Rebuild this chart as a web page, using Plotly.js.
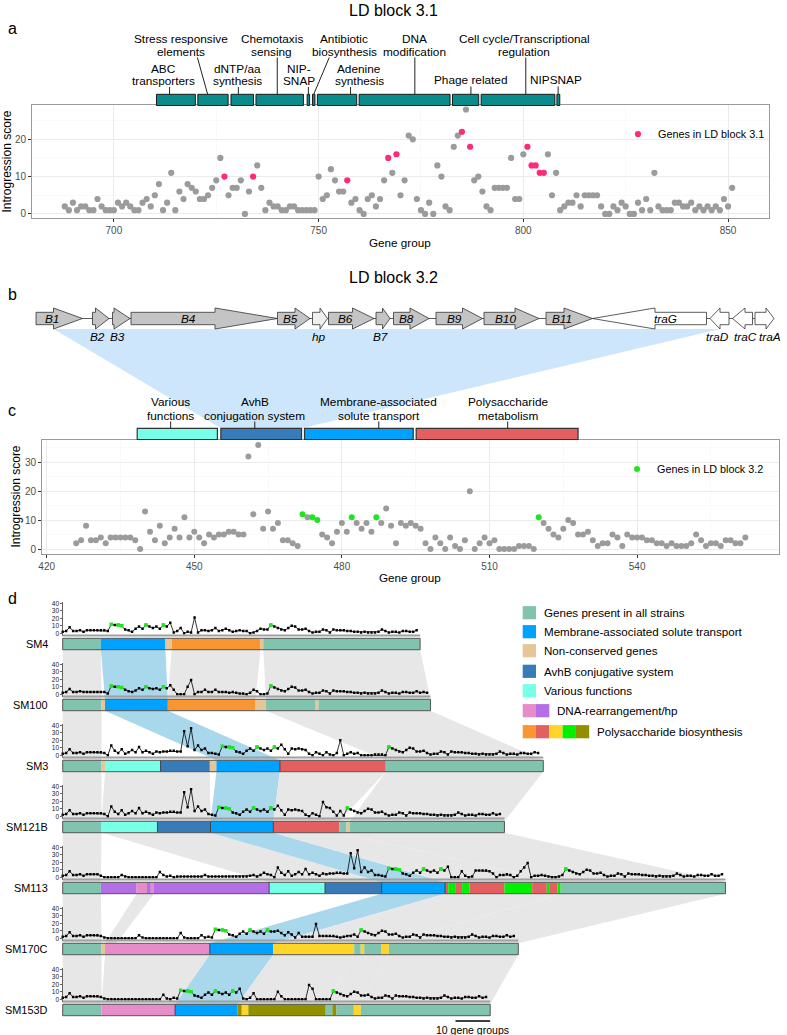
<!DOCTYPE html>
<html><head><meta charset="utf-8">
<script src="https://cdn.plot.ly/plotly-3.0.1.min.js"></script>
<style>html,body{margin:0;padding:0;background:#fff}#chart{width:787px;height:1035px}</style>
</head><body><div id="chart"></div>
<script>
// ================= DATA =================
// Panel a : LD block 3.1
const blockA_firstGene = 688;
const blockA_scores = [2,1,3,1,2,2,1,1,4,2,1,1,1,3,2,3,2,1,1,3,4,2,5,8,1,3,11,1,6,4,8,7,6,4,4,5,7,9,15,10,5,7,7,9,0,6,10,13,7,1,3,2,2,1,1,2,2,1,1,1,1,1,10,4,5,12,9,6,6,9,3,4,1,0,4,5,2,4,9,15,11,16,
  5,9,21,20,4,1,0,3,0,13,10,2,1,18,21,22,28,18,9,10,6,2,1,7,7,7,7,15,4,4,16,18,13,13,11,11,16,5,11,1,2,3,3,5,2,5,5,5,5,2,0,0,2,1,3,2,0,0,3,1,4,1,11,2,1,1,1,3,3,2,2,3,1,2,1,2,1,2,1,4,2,7];
const blockA_ldGenes = [727,734,757,767,769,785,787,801,802,803,804,805];
const blockA_categories = ["ABC<br>transporters","Stress responsive<br>elements","dNTP/aa<br>synthesis","Chemotaxis<br>sensing","NIP-<br>SNAP","Antibiotic<br>biosynthesis","Adenine<br>synthesis","DNA<br>modification","Phage related","Cell cycle/Transcriptional<br>regulation","NIPSNAP"];
const blockA_catStart = [710.4,720.5,728.6,734.7,747.2,748.5,749.7,759.9,782.7,789.7,808.2];
const blockA_catEnd   = [719.9,727.9,734.1,746.3,747.8,749.1,759.3,782.1,789.1,807.7,808.9];

// Panel c : LD block 3.2
const blockC_firstGene = 426;
const blockC_scores = [2,3,8,3,3,4,2,4,4,4,4,4,3,0,13,6,3,8,2,4,7,4,11,4,6,4,2,5,4,5,5,6,6,5,5,32,12,36,7,13,7,9,3,3,2,1,12,11,11,10,5,4,2,6,9,6,11,9,7,9,6,11,9,14,8,2,
  9,8,9,8,7,2,0,4,2,0,4,1,0,3,20,0,2,4,2,3,0,0,0,0,1,1,1,0,11,9,7,5,4,7,10,9,5,5,6,3,1,2,2,5,4,1,5,4,4,4,3,3,2,2,1,2,1,1,1,2,5,3,1,2,2,1,3,3,2,2,4];
const blockC_ldGenes = [472,474,475,482,487,520];
const blockC_categories = ["Various<br>functions","AvhB<br>conjugation system","Membrane-associated<br>solute transport","Polysaccharide<br>metabolism"];
const blockC_catStart = [438.4,455.4,472.4,495.1];
const blockC_catEnd   = [454.7,471.8,494.5,528.0];
const blockC_catKey   = ["various","avhb","mem","red"];

// Panel b : gene map (map units)
const geneNames  = ["B1","B2","B3","B4","B5","hp","B6","B7","B8","B9","B10","B11","traG","traD","traC","traA"];
const geneStart  = [0,56.5,76.5,95,241.5,276.5,292.5,340,357.5,400,448,510,556.5,674,696.5,719];
const geneEnd    = [46.5,73,94,241.5,274,291.5,338,354,393,446.5,503,556.5,670.5,693,716.5,738];
const geneHeadAt = [17.5,59.5,78,179,259,284,316.5,346.5,374,426.5,479,528,619,684,709,730];
const geneStrand = [1,1,1,1,1,1,1,1,1,1,1,1,-1,-1,-1,1];
const geneType   = ["avhb","avhb","avhb","avhb","avhb","hp","avhb","avhb","avhb","avhb","avhb","avhb","tra","tra","tra","tra"];

// Panel d : strains
const strains = ["SM4","SM100","SM3","SM121B","SM113","SM170C","SM153D"];
const sm4_scores = [2,3,8,3,3,4,2,4,4,4,4,4,4,3,12,11,11,10,5,4,2,6,9,6,11,9,7,9,6,11,9,14,1,3,7,0,2,1,21,1,4,4,3,4,7,3,4,6,4,2,3,4,3,3,0,1,3,6,5,5,11,9,7,5,4,7,10,9,5,5,6,3,1,2,2,5,4,1,5,4,4,4,3,3,2,2,1,2,1,1,1,2,5,3,1,2,2,1,3,3,2,2,4];
const sm100_scores = [2,3,7,3,3,4,3,3,3,3,3,3,3,1,11,10,10,9,6,4,3,5,8,6,10,8,7,8,6,10,8,12,6,0,0,0,10,19,0,3,3,6,3,3,6,3,3,3,2,3,2,1,1,0,2,6,4,0,0,1,11,9,7,5,4,7,10,9,5,5,6,3,1,2,2,5,4,1,5,4,4,4,3,3,2,2,1,2,1,1,1,2,5,3,1,2,2,1,3,3,2,2,4,2,3,2];
const sm3_scores = [2,3,8,3,3,4,2,4,4,4,4,4,3,0,13,6,3,8,2,4,7,4,11,4,6,4,2,5,4,5,5,6,6,5,5,32,12,36,7,13,7,9,3,3,2,1,12,11,11,10,5,4,2,6,9,6,11,9,7,9,6,11,9,14,8,2,9,8,9,8,7,2,0,4,2,0,4,1,0,3,20,0,2,4,2,3,0,0,0,0,1,1,1,0,11,9,7,5,4,7,10,9,5,5,6,3,1,2,2,5,4,1,5,4,4,4,3,3,2,2,1,2,1,1,1,2,5,3,1,2,2,1,3,3,2,2,4,3];
const sm121B_scores = [2,3,8,3,3,4,2,4,4,4,4,4,3,0,13,6,3,8,2,4,7,4,11,4,6,4,2,5,4,5,5,6,6,5,5,32,12,36,7,13,7,9,3,2,1,12,11,11,10,5,4,2,6,9,6,11,9,7,9,6,11,9,14,8,2,9,8,9,8,7,2,0,4,2,0,19,12,11,6,1,7,1,11,9,7,5,4,7,10,9,5,5,6,3,1,2,2,5,4,1,5,4,4,4,3,3,2,2,1,2,1,1,1,2,5,3,1,2,2,1,3,3,2,2,4,2,3];
const sm113_scores = [2,3,8,3,3,4,2,4,4,4,4,2,0,0,0,0,0,3,1,0,0,0,0,0,0,0,0,0,7,3,1,2,0,1,1,1,1,1,1,1,1,3,1,1,1,1,1,1,1,1,1,1,1,1,2,3,1,3,6,4,3,0,13,6,3,8,2,4,7,4,11,4,6,4,2,5,4,5,5,6,6,5,5,32,12,36,7,13,7,9,3,3,2,1,12,11,11,10,5,4,2,6,9,6,11,9,7,9,6,11,9,14,0,0,0,8,2,0,1,9,9,9,9,8,5,0,3,3,4,3,0,2,8,13,19,0,2,2,3,2,1,0,0,1,3,11,9,7,5,4,7,10,9,5,5,6,3,1,2,2,5,4,1,5,4,4,4,3,3,2,2,1,2,1,1,1,2,5,3,1,2,2,1,3,3,2,2,4,2,2,4];
const sm170C_scores = [2,3,8,3,3,4,2,4,4,4,4,3,1,0,0,0,0,0,0,0,0,0,4,1,0,0,0,0,0,0,0,0,0,0,7,1,0,0,0,0,4,1,2,1,12,11,11,10,5,4,2,6,9,6,11,9,7,9,6,11,9,9,10,7,4,8,5,1,7,2,2,2,2,19,3,3,3,3,3,2,1,2,3,3,5,2,11,9,7,5,4,7,10,9,5,5,6,3,1,2,2,5,4,1,5,4,4,4,3,3,2,2,1,2,1,1,1,2,5,3,1,2,2,1,3,3,2,2,4,2,3];
const sm153D_scores = [2,3,8,3,3,4,2,4,4,4,4,3,1,0,0,0,0,0,0,0,0,0,0,0,0,0,0,0,0,6,1,0,2,1,12,11,11,10,5,4,2,6,9,6,11,9,7,9,6,11,9,14,1,0,2,8,0,0,0,0,0,0,10,4,0,0,0,0,0,0,0,19,14,0,0,0,0,0,11,9,7,5,4,7,10,9,5,5,6,3,1,2,2,5,4,1,5,4,4,4,3,3,2,2,1,2,1,1,1,2,5,3,1,2,2,1,3,3,2,2,4,2,3];
const strainScores = [sm4_scores, sm100_scores, sm3_scores, sm121B_scores, sm113_scores, sm170C_scores, sm153D_scores];
const strainLd = [[14,16,17,24,29,60],[14,16,17,24,29,60],[46,48,49,56,61,94],[45,47,48,55,60,82],[94,96,97,104,109,145],[44,46,47,54,59,86],[34,36,37,44,49,78]];
// segment categories and right edges (gene-group units)
const strainSegCat = [
  ["core","mem","non","orange","non","core"],
  ["core","non","mem","orange","non","core","non","core"],
  ["core","non","various","avhb","non","mem","red","core"],
  ["core","various","avhb","mem","red","core","non","core"],
  ["core","purple","pink","purple","pink","purple","various","avhb","mem","red","green","red","green","red","green","red","green","red","green","core"],
  ["core","non","pink","mem","yellow","core","yellow","core","yellow","core"],
  ["core","pink","mem","olive","yellow","olive","core","olive","core","yellow","core"]];
const strainSegEnd = [
  [11,29.6,31.4,57,57.8,103],
  [11.2,12.2,30.3,55.6,58.6,72.9,73.7,106],
  [11.2,12.2,28.2,42.4,44.3,62.6,93.1,138.5],
  [11.2,27.3,42.6,60.7,79.7,81.8,82.8,127.3],
  [11,21.3,24.3,25.4,26.3,59.5,75.6,91.9,110.2,111.1,113.1,115.1,117.2,127.3,135.3,139.5,140.4,142.6,143.5,191],
  [11.2,12.2,42.4,60.7,84,85.9,86.9,91.9,94,131.3],
  [11.2,32.4,50.4,51.6,53.5,75.8,77.7,78.9,83.9,85.9,123.2]];
// homology links between consecutive strains
const linkRow  = [0,0,0,0, 1,1,1, 2,2,2,2,2, 3,3,3,3,3, 4,4,4,4,4, 5,5,5,5,5,5];
const linkTop0 = [0,11,31.4,57.8, 0,12.2,58.6, 0,12.2,44.3,62.6,93.1, 0,11.2,42.6,60.7,79.7, 0,21.3,91.9,110.2,143.5, 0,12.2,42.4,60.7,84,94];
const linkTop1 = [11,29.6,57,103, 11.2,30.3,106, 11.2,42.4,62.6,93.1,138.5, 11.2,42.6,60.7,79.7,127.3, 11,26.3,110.2,143.5,191, 11.2,42.4,60.7,84,94,131.3];
const linkBot0 = [0,12.2,30.3,58.6, 0,44.3,93.1, 0,11.2,42.6,60.7,82.8, 0,59.5,91.9,110.2,143.5, 0,12.2,42.4,60.7,94, 0,11.2,32.4,50.4,75.8,85.9];
const linkBot1 = [11.2,30.3,55.6,106, 11.2,62.6,138.5, 11.2,42.6,60.7,79.7,127.3, 11,91.9,110.2,143.5,191, 11.2,15.5,60.7,94,131.3, 11.2,32.4,50.4,75.8,85.9,123.2];
const linkKind = ["g","b","g","g", "g","b","g", "g","g","b","g","g", "g","g","b","g","g", "g","g","b","g","g", "g","g","b","g","g","g"];
const legendLabels = ["Genes present in all strains","Membrane-associated solute transport","Non-conserved genes","AvhB conjugative system","Various functions","DNA-rearrangement/hp","Polysaccharide biosynthesis"];
const legendKeys = [["core"],["mem"],["non"],["avhb"],["various"],["pink","purple"],["orange","red","yellow","green","olive"]];
const scaleBarGenes = 10;

// ================= STYLE / LAYOUT =================
const W = 787, H = 1035;
const FONT = 'Liberation Sans, Arial, Helvetica, sans-serif';
const PY = p => 1 - p / H;
const PX = p => p / W;
const dom = (top, bottom) => [1 - bottom / H, 1 - top / H];
const COL = {core:'#80c4b0', mem:'#00a2ff', non:'#e6c696', avhb:'#377bb9', various:'#78ffe8', pink:'#e68cc8', purple:'#b46ee6', orange:'#fa9632', red:'#e45f5f', yellow:'#ffd628', green:'#00f000', olive:'#919100'};
const DIV_LEFT = ['purple','various','avhb','mem','pink'], DIV_RIGHT = ['various','avhb','mem','red'];
const traces = [], shapes = [], ann = [];
const T = (text, x, y, size, o) => Object.assign({text, x: PX(x), y: PY(y), xref:'paper', yref:'paper', showarrow:false, font:{family:FONT, size, color:'#000'}, xanchor:'center', yanchor:'middle'}, o || {});

// ---------- panel d ----------
const D0 = 62.7, DU = 3.47;
const ROW = 61, BAR_TOP0 = 638.3, BH = 11.4 / ROW;
const dTop = 598, dBot = 1030;
const ovTop = (dTop - BAR_TOP0) / ROW, ovBot = (dBot - BAR_TOP0) / ROW;
for (let i = 0; i < linkRow.length; i++) {
  const r = linkRow[i];
  traces.push({type:'scatter', mode:'lines', xaxis:'x3', yaxis:'y',
    x:[linkTop0[i], linkTop1[i], linkBot1[i], linkBot0[i], linkTop0[i]],
    y:[r + BH, r + BH, r + 1, r + 1, r + BH], fill:'toself',
    fillcolor: linkKind[i] === 'b' ? '#a9d7ec' : '#e7e7e7', line:{width:0}, hoverinfo:'skip', showlegend:false});
}
strainSegCat.forEach((cats, r) => {
  const ends = strainSegEnd[r];
  cats.forEach((c, j) => {
    const x0 = j === 0 ? 0 : ends[j - 1], x1 = ends[j];
    traces.push({type:'scatter', mode:'lines', xaxis:'x3', yaxis:'y', x:[x0,x1,x1,x0,x0], y:[r,r,r+BH,r+BH,r],
      fill:'toself', fillcolor: COL[c], line:{width:0}, hoverinfo:'skip', showlegend:false});
    if (j > 0 && cats[j - 1] !== c && DIV_LEFT.includes(cats[j - 1]) && DIV_RIGHT.includes(c)) {
      traces.push({type:'scatter', mode:'lines', xaxis:'x3', yaxis:'y', x:[x0, x0], y:[r, r + BH],
        line:{color:'#3a3a3a', width:0.9}, hoverinfo:'skip', showlegend:false});
    }
  });
  const N = ends[ends.length - 1];
  traces.push({type:'scatter', mode:'lines', xaxis:'x3', yaxis:'y', x:[0,N,N,0,0], y:[r,r,r+BH,r+BH,r],
    line:{color:'#555', width:1}, hoverinfo:'skip', showlegend:false});
});
const miniAxes = {};
strains.forEach((s, r) => {
  const yname = 'y' + (r + 2);
  const y0 = BAR_TOP0 - 5 + ROW * r;
  miniAxes['yaxis' + (r + 2)] = {domain: dom(y0 - 31.5, y0 + 2.25), range:[-3, 42], anchor:'free', position: PX(62.3),
    tickvals:[0,10,20,30,40], ticks:'outside', ticklen:2, tickwidth:0.7, tickcolor:'#222', showline:true, linecolor:'#222', linewidth:0.7,
    showgrid:false, zeroline:false, tickfont:{family:FONT, size:6.5, color:'#222'}, fixedrange:true};
  const vals = strainScores[r];
  const N = strainSegEnd[r][strainSegEnd[r].length - 1];
  shapes.push({type:'line', xref:'x3', yref: yname + ' domain', x0:0, x1:N, y0:0, y1:0, line:{color:'#a0a0a0', width:2}});
  traces.push({type:'scatter', mode:'lines+markers', xaxis:'x3', yaxis:yname, x: vals.map((v, k) => k), y: vals,
    line:{color:'#000', width:0.8}, marker:{symbol:'square', size:2.4, color:'#000'}, hoverinfo:'skip', showlegend:false});
  const ld = strainLd[r];
  traces.push({type:'scatter', mode:'markers', xaxis:'x3', yaxis:yname, x: ld, y: ld.map(k => vals[k]),
    marker:{symbol:'square', size:3.6, color:'#1ee61e'}, hoverinfo:'skip', showlegend:false});
  ann.push(T(s, 49.5, BAR_TOP0 + BH * ROW / 2 + ROW * r, 10.9, {xanchor:'right'}));
});
const lastN = strainSegEnd[6][strainSegEnd[6].length - 1];
const sbY = (1021 - BAR_TOP0) / ROW;
shapes.push({type:'line', xref:'x3', yref:'y', x0:lastN - scaleBarGenes, x1:lastN, y0:sbY, y1:sbY, line:{color:'#000', width:1.5}});
ann.push(Object.assign(T(scaleBarGenes + ' gene groups', 0, 1029.5, 10.5), {xref:'x3', x: lastN - scaleBarGenes / 2}));
const legY = [612.7, 631.7, 650.7, 671.3, 690.7, 710.7, 731.7];
legendLabels.forEach((lab, i) => {
  const keys = legendKeys[i];
  keys.forEach((k, j) => {
    shapes.push({type:'rect', xref:'paper', yref:'paper', x0:PX(522.7 + 13.3 * j), x1:PX(522.7 + 13.3 * (j + 1)),
      y0:PY(legY[i] + 6.6), y1:PY(legY[i] - 6.6), fillcolor:COL[k], line:{width:0}});
  });
  ann.push(T(lab, 522.7 + 13.3 * keys.length + 5.5, legY[i], 11.6, {xanchor:'left'}));
});

// ---------- panel a ----------
const xA = blockA_scores.map((v, i) => blockA_firstGene + i);
const ldA = xA.map(g => blockA_ldGenes.includes(g));
traces.push({type:'scatter', mode:'markers', xaxis:'x', yaxis:'y9', x: xA.filter((g, i) => !ldA[i]), y: blockA_scores.filter((v, i) => !ldA[i]),
  marker:{size:6.2, color:'#9b9b9b'}, hoverinfo:'skip', showlegend:false});
traces.push({type:'scatter', mode:'markers', xaxis:'x', yaxis:'y9', x: xA.filter((g, i) => ldA[i]), y: blockA_scores.filter((v, i) => ldA[i]),
  marker:{size:6.2, color:'#ff2a7a'}, name:'Genes in LD block 3.1', showlegend:true, legend:'legend', hoverinfo:'skip'});
const labelA_x   = [712.2,716.5,730.2,738.6,745.3,756.2,759.9,773.5,787.2,800.2,807.9];
const labelA_hi  = [false,true,false,true,false,true,false,true,false,true,false];
const connA_top  = [713.6,720.4,730.4,739.9,747.5,752.6,757.8,773.5,787.2,800.6,808.5];
const connA_bot  = [713.6,722.9,730.4,739.9,747.5,748.8,757.8,773.5,787.2,800.6,808.5];
blockA_categories.forEach((lab, i) => {
  shapes.push({type:'rect', xref:'x', yref:'paper', x0:blockA_catStart[i], x1:blockA_catEnd[i], y0:PY(105.5), y1:PY(94.3),
    fillcolor:'#0b8c8c', line:{color:'#1a1a1a', width:1}});
  const lines = lab.split('<br>');
  let ys, cTop;
  if (labelA_hi[i]) { ys = [39.3, 52.3]; cTop = 57.5; }
  else if (lines.length === 2) { ys = [69.3, 81.3]; cTop = 87; }
  else { ys = [80.5]; cTop = 86.5; }
  lines.forEach((ln, j) => ann.push(Object.assign(T(ln, 0, ys[j], 11.8), {xref:'x', x: labelA_x[i]})));
  shapes.push({type:'line', xref:'x', yref:'paper', x0:connA_top[i], x1:connA_bot[i], y0:PY(cTop), y1:PY(94.3), line:{color:'#222', width:1}});
});

// ---------- panel c ----------
const xC = blockC_scores.map((v, i) => blockC_firstGene + i);
const ldC = xC.map(g => blockC_ldGenes.includes(g));
traces.push({type:'scatter', mode:'markers', xaxis:'x2', yaxis:'y10', x: xC.filter((g, i) => !ldC[i]), y: blockC_scores.filter((v, i) => !ldC[i]),
  marker:{size:6, color:'#9b9b9b'}, hoverinfo:'skip', showlegend:false});
traces.push({type:'scatter', mode:'markers', xaxis:'x2', yaxis:'y10', x: xC.filter((g, i) => ldC[i]), y: blockC_scores.filter((v, i) => ldC[i]),
  marker:{size:6, color:'#1ee61e'}, name:'Genes in LD block 3.2', showlegend:true, legend:'legend2', hoverinfo:'skip'});
const labelC_x = [445.2, 462.3, 487.5, 513.7];
blockC_categories.forEach((lab, i) => {
  shapes.push({type:'rect', xref:'x2', yref:'paper', x0:blockC_catStart[i], x1:blockC_catEnd[i], y0:PY(439.5), y1:PY(428.3),
    fillcolor:COL[blockC_catKey[i]], line:{color:'#333', width:1.2}});
  const lines = lab.split('<br>');
  lines.forEach((ln, j) => ann.push(Object.assign(T(ln, 0, [402, 415.7][j], 11.8), {xref:'x2', x: labelC_x[i]})));
  shapes.push({type:'line', xref:'x2', yref:'paper', x0:labelC_x[i], x1:labelC_x[i], y0:PY(421.5), y1:PY(428.3), line:{color:'#222', width:1}});
});

// ---------- panel b ----------
const cDomL = 42, cDomR = 779.3, cR0 = 419.05, cR1 = 568.9;
const cPx = g => cDomL + (g - cR0) * (cDomR - cDomL) / (cR1 - cR0);
const MAP0 = 36;
const avi = blockC_catKey.indexOf('avhb');
const iB1 = geneNames.indexOf('B1'), iTraD = geneNames.indexOf('traD');
traces.push({type:'scatter', mode:'lines', xaxis:'x4', yaxis:'y11',
  x:[geneHeadAt[iB1], geneHeadAt[iTraD], cPx(blockC_catEnd[avi]) - MAP0, cPx(blockC_catStart[avi]) - MAP0, geneHeadAt[iB1]],
  y:[329, 329, 428.3, 428.3, 329], fill:'toself', fillcolor:'#cde6fb', line:{width:0}, hoverinfo:'skip', showlegend:false});
const GC = 318.5, BHALF = 6.2, HHALF = 10.5;
traces.push({type:'scatter', mode:'lines', xaxis:'x4', yaxis:'y11', x:[geneStart[0], geneEnd[geneEnd.length - 1]], y:[GC, GC],
  line:{color:'#333', width:0.8}, hoverinfo:'skip', showlegend:false});
const FILL = {avhb:'#c4c4c4', hp:'#efefef', tra:'#ffffff'};
const inside = [true,false,false,true,true,false,true,false,true,true,true,true,true,false,false,false];
const labelShift = [0,-3,-3.5,0,0,-1.5,0,-3,0,0,0,0,0,-2,2.5,5.5];
geneNames.forEach((g, i) => {
  const s = geneStart[i], e = geneEnd[i], h = geneHeadAt[i];
  const xs = geneStrand[i] > 0 ? [s, h, h, e, h, h, s, s] : [e, h, h, s, h, h, e, e];
  const ys = [GC - BHALF, GC - BHALF, GC - HHALF, GC, GC + HHALF, GC + BHALF, GC + BHALF, GC - BHALF];
  traces.push({type:'scatter', mode:'lines', xaxis:'x4', yaxis:'y11', x:xs, y:ys, fill:'toself', fillcolor:FILL[geneType[i]],
    line:{color:'#333', width:0.8}, hoverinfo:'skip', showlegend:false});
  const bodyC = geneStrand[i] > 0 ? (s + h) / 2 : (h + e) / 2;
  const lx = (inside[i] ? (bodyC + (s + e) / 2) / 2 : (s + e) / 2) + labelShift[i];
  ann.push(Object.assign(T('<i>' + g + '</i>', 0, inside[i] ? GC : 337.3, 11.8), {xref:'x4', x: lx}));
});

// ---------- titles & panel letters ----------
ann.push(T('LD block 3.1', 393, 10.5, 16));
ann.push(T('LD block 3.2', 393, 277, 16));
ann.push(T('a', 12, 28, 16)); ann.push(T('b', 12, 295, 16)); ann.push(T('c', 12, 410, 16)); ann.push(T('d', 12, 598, 16));
ann.push(T('Introgression score', 7, 161.5, 12, {textangle:-90}));
ann.push(T('Gene group', 400, 243, 11.7));
ann.push(T('Introgression score', 15.5, 497, 12, {textangle:-90}));
ann.push(T('Gene group', 410, 577, 11.7));

const gridAx = (extra) => Object.assign({showgrid:true, gridcolor:'#ebebeb', gridwidth:1, showline:true, mirror:true, linecolor:'#9a9a9a', linewidth:1,
  ticks:'outside', ticklen:3, tickwidth:1, tickcolor:'#333', zeroline:false, tickfont:{family:FONT, size:10, color:'#4d4d4d'}, fixedrange:true}, extra);

const layout = Object.assign({
  width: W, height: H, margin:{l:0, r:0, t:0, b:0}, paper_bgcolor:'#fff', plot_bgcolor:'rgba(0,0,0,0)',
  font:{family:FONT, color:'#000'}, showlegend:true,
  xaxis: gridAx({domain:[PX(32), PX(769)], range:[680, 860], anchor:'y9', tickvals:[700,750,800,850],
    minor:{tickvals:[725,775,825], showgrid:true, gridcolor:'#f5f5f5', gridwidth:0.6}}),
  yaxis9: gridAx({domain: dom(105, 218), range:[-1.1, 29.2], anchor:'x', tickvals:[0,10,20],
    minor:{tickvals:[5,15,25], showgrid:true, gridcolor:'#f5f5f5', gridwidth:0.6}}),
  xaxis2: gridAx({domain:[PX(cDomL), PX(cDomR)], range:[cR0, cR1], anchor:'y10', tickvals:[420,450,480,510,540],
    minor:{tickvals:[435,465,495,525,555], showgrid:true, gridcolor:'#f5f5f5', gridwidth:0.6}}),
  yaxis10: gridAx({domain: dom(440, 554), range:[-1.73, 37.7], anchor:'x2', tickvals:[0,10,20,30],
    minor:{tickvals:[5,15,25,35], showgrid:true, gridcolor:'#f5f5f5', gridwidth:0.6}}),
  xaxis3: {domain:[PX(50), 1], range:[(50 - D0) / DU, (W - D0) / DU], anchor:'y', visible:false, fixedrange:true},
  yaxis: {domain: dom(dTop, dBot), range:[ovBot, ovTop], anchor:'x3', visible:false, fixedrange:true},
  xaxis4: {domain:[0, 1], range:[-MAP0, W - MAP0], anchor:'y11', visible:false, fixedrange:true},
  yaxis11: {domain:[0, 1], range:[H, 0], anchor:'x4', visible:false, fixedrange:true},
  legend: {x: PX(618), y: PY(134), xanchor:'left', yanchor:'middle', bgcolor:'rgba(0,0,0,0)', font:{family:FONT, size:10.8}, itemwidth:30},
  legend2: {x: PX(617), y: PY(469), xanchor:'left', yanchor:'middle', bgcolor:'rgba(0,0,0,0)', font:{family:FONT, size:10.8}, itemwidth:30},
  shapes, annotations: ann
}, miniAxes);

Plotly.newPlot('chart', traces, layout, {staticPlot:true, displayModeBar:false});
</script></body></html>
